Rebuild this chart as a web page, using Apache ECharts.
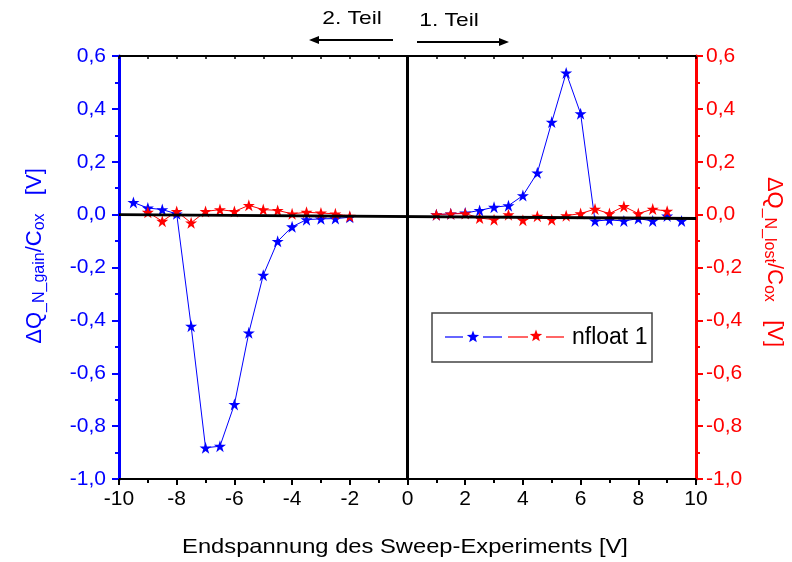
<!DOCTYPE html>
<html>
<head>
<meta charset="utf-8">
<script src="https://cdn.jsdelivr.net/npm/echarts@6/dist/echarts.min.js"></script>
<style>html,body{margin:0;padding:0;background:#fff}#c{width:792px;height:562px}</style>
</head>
<body>
<div id="c"></div>
<script>
// ---- data ----
var xLeft = [-9.5, -9, -8.5, -8, -7.5, -7, -6.5, -6, -5.5, -5, -4.5, -4, -3.5, -3, -2.5, -2];
var gainLeft = [0.046, 0.025, 0.019, 0.003, -0.422, -0.882, -0.876, -0.718, -0.447, -0.229, -0.101, -0.046, -0.019, -0.016, -0.015, -0.010];
var xLostLeft = [-9, -8.5, -8, -7.5, -7, -6.5, -6, -5.5, -5, -4.5, -4, -3.5, -3, -2.5, -2];
var lostLeft = [0.009, -0.025, 0.012, -0.031, 0.012, 0.019, 0.012, 0.035, 0.019, 0.016, 0.003, 0.009, 0.006, 0.003, -0.006];
var xRight = [1, 1.5, 2, 2.5, 3, 3.5, 4, 4.5, 5, 5.5, 6, 6.5, 7, 7.5, 8, 8.5, 9, 9.5];
var gainRight = [0.0, 0.003, 0.006, 0.016, 0.028, 0.034, 0.072, 0.158, 0.350, 0.536, 0.382, -0.024, -0.020, -0.024, -0.015, -0.024, -0.005, -0.024];
var xLostRight = [1, 1.5, 2, 2.5, 3, 3.5, 4, 4.5, 5, 5.5, 6, 6.5, 7, 7.5, 8, 8.5, 9];
var lostRight = [0.0, 0.003, 0.004, -0.013, -0.019, 0.0, -0.021, -0.006, -0.019, -0.004, 0.004, 0.021, 0.004, 0.031, 0.004, 0.021, 0.013];
var zeroLineH = [[-10, 0.0], [10, -0.015]];
var zeroLineV = [[0, 0.6], [0, -1.0]];
var legendName = 'nfloat 1';
var xTitle = 'Endspannung des Sweep-Experiments [V]';

function zip(xs, ys) { return xs.map(function (x, i) { return [x, ys[i]]; }); }
var STAR = 'path://M50,0 L61.8,35.1 L98.9,35.1 L68.9,56.7 L80.3,91.9 L50,70 L19.7,91.9 L31.1,56.7 L1.1,35.1 L38.2,35.1 Z';
var FONT = 'Liberation Sans';
var BLUE = '#0000ff', RED = '#ff0000';

function fmt(v) {
  if (Math.abs(v) < 1e-9) return '0,0';
  return v.toFixed(1).replace('.', ',');
}

function yAxisDef(pos, color, margin) {
  return {
    type: 'value', position: pos, min: -1.0, max: 0.6, interval: 0.2,
    axisLine: { show: true, onZero: false, lineStyle: { color: color, width: 3 } },
    axisTick: { show: true, inside: false, length: 7, lineStyle: { color: color, width: 2 } },
    minorTick: { show: true, splitNumber: 2, length: 4, lineStyle: { color: color, width: 2 } },
    axisLabel: { color: color, fontSize: 21, fontFamily: FONT, margin: margin, formatter: fmt },
    splitLine: { show: false }, minorSplitLine: { show: false }
  };
}

function series(name, xs, ys, color, yIdx) {
  return {
    name: name, type: 'line', xAxisIndex: 0, yAxisIndex: yIdx,
    data: zip(xs, ys), symbol: STAR, symbolSize: 12,
    itemStyle: { color: color }, lineStyle: { color: color, width: 1 },
    z: 3, animation: false
  };
}

var chart = echarts.init(document.getElementById('c'), null, { renderer: 'canvas' });

function starG(cx, cy, r, color) {
  var pts = [];
  for (var i = 0; i < 10; i++) {
    var a = -Math.PI / 2 + i * Math.PI / 5;
    var rr = (i % 2 === 0) ? r : r * 0.42;
    pts.push([cx + rr * Math.cos(a), cy + rr * Math.sin(a)]);
  }
  return { type: 'polygon', z: 20, shape: { points: pts }, style: { fill: color } };
}
function segG(x1, x2, y, color) {
  return { type: 'line', z: 20, shape: { x1: x1, y1: y, x2: x2, y2: y }, style: { stroke: color, lineWidth: 1.2 } };
}

chart.setOption({
  animation: false,
  backgroundColor: '#fff',
  grid: { left: 119, right: 96, top: 56, bottom: 83, containLabel: false },
  xAxis: [{
    type: 'value', position: 'bottom', min: -10, max: 10, interval: 2,
    axisLine: { show: true, onZero: false, lineStyle: { color: '#000', width: 2 } },
    axisTick: { show: true, inside: false, length: 6, lineStyle: { color: '#000', width: 2 } },
    minorTick: { show: true, splitNumber: 2, length: 4, lineStyle: { color: '#000', width: 2 } },
    axisLabel: { color: '#000', fontSize: 21, fontFamily: FONT, margin: 10 },
    splitLine: { show: false }
  }, {
    type: 'value', position: 'top', min: -10, max: 10, interval: 2,
    axisLine: { show: true, onZero: false, lineStyle: { color: '#000', width: 2 } },
    axisTick: { show: true, inside: true, length: 3, lineStyle: { color: '#000', width: 1.5 } },
    minorTick: { show: true, splitNumber: 2, length: 3, lineStyle: { color: '#000', width: 1.5 } },
    axisLabel: { show: false }, splitLine: { show: false }
  }],
  yAxis: [yAxisDef('left', BLUE, 13), yAxisDef('right', RED, 10)],
  series: [
    series('gainL', xLeft, gainLeft, BLUE, 0),
    series('gainR', xRight, gainRight, BLUE, 0),
    series('lostL', xLostLeft, lostLeft, RED, 1),
    series('lostR', xLostRight, lostRight, RED, 1),
    { type: 'line', data: zeroLineH, symbol: 'none', silent: true, z: 5,
      lineStyle: { color: '#000', width: 3 }, xAxisIndex: 0, yAxisIndex: 0, animation: false },
    { type: 'line', data: zeroLineV, symbol: 'none', silent: true, z: 5,
      lineStyle: { color: '#000', width: 3 }, xAxisIndex: 0, yAxisIndex: 0, animation: false }
  ],
  graphic: [
    // legend box
    { type: 'rect', z: 10, shape: { x: 432, y: 313, width: 220, height: 49 }, style: { fill: '#fff', stroke: '#444', lineWidth: 1.5 } },
    segG(445, 463, 337, BLUE), starG(473, 337, 6.5, BLUE), segG(483, 502, 337, BLUE),
    segG(508, 528, 337, RED), starG(536, 336, 6.5, RED), segG(546, 564, 337, RED),
    { type: 'text', z: 20, x: 572, y: 338, style: { text: legendName, fill: '#000', font: '23px "Liberation Sans"', verticalAlign: 'middle', align: 'left' } },
    // x title
    { type: 'text', x: 405, y: 547, scaleX: 1.13, style: { text: xTitle, fill: '#000', font: '21px "Liberation Sans"', align: 'center', verticalAlign: 'middle' } },
    // top annotations
    { type: 'text', x: 352, y: 19, scaleX: 1.2, style: { text: '2. Teil', fill: '#000', font: '19px "Liberation Sans"', align: 'center', verticalAlign: 'middle' } },
    { type: 'text', x: 449, y: 21, scaleX: 1.2, style: { text: '1. Teil', fill: '#000', font: '19px "Liberation Sans"', align: 'center', verticalAlign: 'middle' } },
    { type: 'line', shape: { x1: 316, y1: 40, x2: 393, y2: 40 }, style: { stroke: '#000', lineWidth: 2 } },
    { type: 'polygon', shape: { points: [[309, 40], [319, 36], [319, 44]] }, style: { fill: '#000' } },
    { type: 'line', shape: { x1: 417, y1: 42, x2: 502, y2: 42 }, style: { stroke: '#000', lineWidth: 2 } },
    { type: 'polygon', shape: { points: [[509, 42], [499, 38], [499, 46]] }, style: { fill: '#000' } },
    // left y title
    { type: 'text', x: 36, y: 256, rotation: Math.PI / 2,
      style: {
        text: '{m|ΔQ}{s|_N_gain}{m|/C}{s|ox}{m|   [V]}',
        align: 'center', verticalAlign: 'middle',
        rich: {
          m: { fontSize: 22, fontFamily: FONT, fill: BLUE, lineHeight: 24, verticalAlign: 'top' },
          s: { fontSize: 16, fontFamily: FONT, fill: BLUE, lineHeight: 16, padding: [18, 0, 0, 0], verticalAlign: 'bottom' }
        }
      } },
    // right y title
    { type: 'text', x: 773, y: 262, rotation: -Math.PI / 2,
      style: {
        text: '{m|ΔQ}{s|_N_lost}{m|/C}{s|ox}{m|   [V]}',
        align: 'center', verticalAlign: 'middle',
        rich: {
          m: { fontSize: 22, fontFamily: FONT, fill: RED, lineHeight: 24, verticalAlign: 'top' },
          s: { fontSize: 16, fontFamily: FONT, fill: RED, lineHeight: 16, padding: [18, 0, 0, 0], verticalAlign: 'bottom' }
        }
      } }
  ]
});
</script>
</body>
</html>
